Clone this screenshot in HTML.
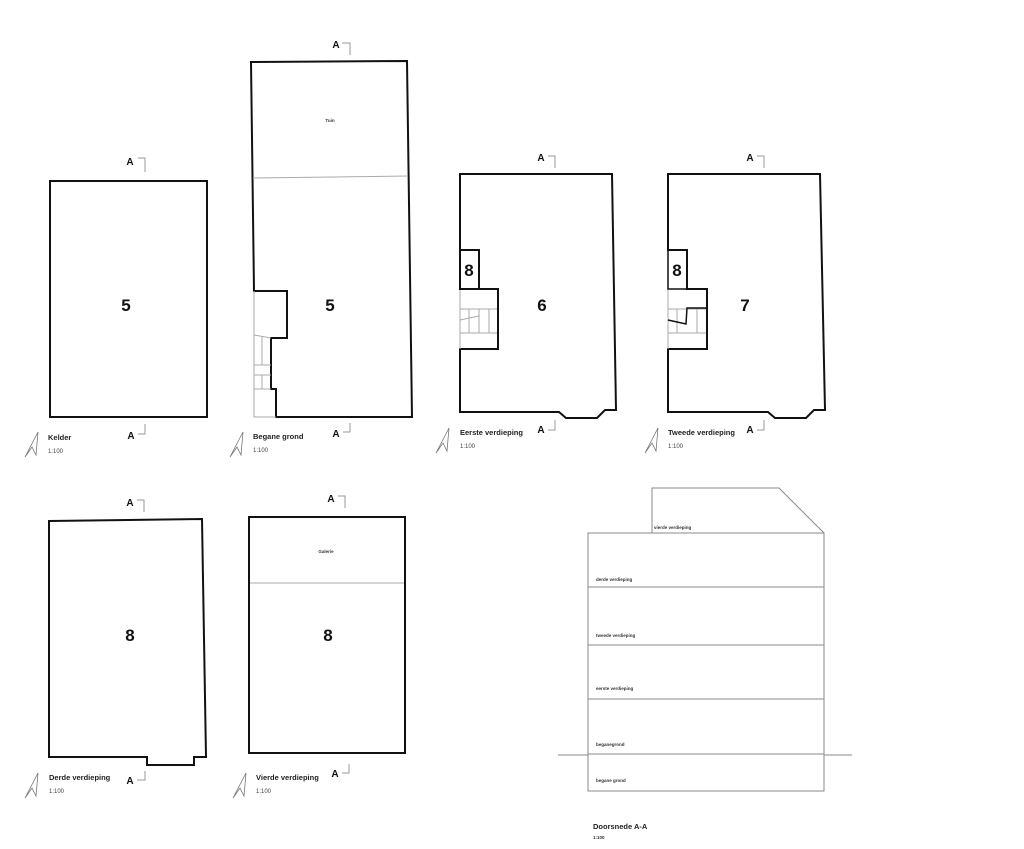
<!DOCTYPE html>
<html><head><meta charset="utf-8"><style>
html,body{margin:0;padding:0;background:#fff;}
svg{display:block;}
.b{fill:none;stroke:#111;stroke-width:2;}
.g{fill:none;stroke:#aaa;stroke-width:1;}
.s{fill:none;stroke:#888;stroke-width:1;}
.m{fill:none;stroke:#999;stroke-width:1;}
.n{font-family:"Liberation Sans",sans-serif;font-weight:bold;font-size:17px;fill:#111;}
.a{font-family:"Liberation Sans",sans-serif;font-weight:bold;font-size:10px;fill:#111;}
.t{font-family:"Liberation Sans",sans-serif;font-weight:bold;font-size:7.5px;fill:#222;}
.sc{font-family:"Liberation Sans",sans-serif;font-size:6px;fill:#444;}
.x{font-family:"Liberation Sans",sans-serif;font-weight:bold;font-size:4.5px;fill:#333;}
</style></head><body>
<svg width="1024" height="849" viewBox="0 0 1024 849" xmlns="http://www.w3.org/2000/svg">
<defs>
<g id="na"><path d="M-1,13 L12,-12 L10,11 L6,3 Z" fill="none" stroke="#777" stroke-width="0.8"/></g>
</defs>

<!-- Kelder -->
<rect x="50" y="181" width="157" height="236" class="b"/>
<text x="126" y="311" class="n" text-anchor="middle">5</text>
<text x="130" y="165" class="a" text-anchor="middle">A</text><path d="M138,158 H145 V172" class="m"/>
<text x="131" y="439" class="a" text-anchor="middle">A</text><path d="M138,434 H145 V424" class="m"/>
<use href="#na" x="26" y="444"/>
<text x="48" y="440" class="t">Kelder</text><text x="48" y="453" class="sc">1:100</text>

<!-- Begane grond -->
<path d="M251,62 L407,61 L412,417 L276,417 L276,389 L271,389 L271,338 L287,338 L287,291 L254,291 Z" class="b"/>
<path d="M253,178 L408,176" class="g"/>
<path d="M254,291 V417 H276 M254,335 L271,338 M254,365 H271 M254,375 H271 M262,337 V365 M262,375 V389 M254,389 H271" class="g"/>
<text x="330" y="122" class="x" text-anchor="middle">Tuin</text>
<text x="330" y="311" class="n" text-anchor="middle">5</text>
<text x="336" y="48" class="a" text-anchor="middle">A</text><path d="M342,43 H350 V55" class="m"/>
<text x="336" y="437" class="a" text-anchor="middle">A</text><path d="M343,432 H350 V423" class="m"/>
<use href="#na" x="231" y="444"/>
<text x="253" y="439" class="t">Begane grond</text><text x="253" y="452" class="sc">1:100</text>

<!-- Eerste verdieping -->
<path d="M460,349 L498,349 L498,289 L479,289 L479,250 L460,250 L460,174 L612,174 L616,410 L605,410 L597,418 L566,418 L559,412 L460,412 Z" class="b"/>
<path d="M460,289 V349 M460,309 H497 M460,333 H497 M469,309 V333 M479,309 V333 M489,309 V333 M460,320 L479,316" class="g"/>
<path d="M460,250 V289 H479" class="b"/>
<text x="469" y="276" class="n" text-anchor="middle">8</text>
<text x="542" y="311" class="n" text-anchor="middle">6</text>
<text x="541" y="161" class="a" text-anchor="middle">A</text><path d="M548,156 H555 V168" class="m"/>
<text x="541" y="433" class="a" text-anchor="middle">A</text><path d="M548,430 H555 V420" class="m"/>
<use href="#na" x="437" y="440"/>
<text x="460" y="435" class="t">Eerste verdieping</text><text x="460" y="448" class="sc">1:100</text>

<!-- Tweede verdieping -->
<path d="M668,349 L707,349 L707,289 L687,289 L687,250 L668,250 L668,174 L820,174 L825,410 L814,410 L806,418 L775,418 L768,412 L668,412 Z" class="b"/>
<path d="M668,289 V349 M668,309 H706 M668,333 H706 M677,309 V333 M697,309 V333" class="g"/>
<path d="M668,250 V289 H687 M668,320 L686,324 L687,308 L707,308" class="b" style="stroke-width:1.5"/>
<text x="677" y="276" class="n" text-anchor="middle">8</text>
<text x="745" y="311" class="n" text-anchor="middle">7</text>
<text x="750" y="161" class="a" text-anchor="middle">A</text><path d="M757,156 H764 V168" class="m"/>
<text x="750" y="433" class="a" text-anchor="middle">A</text><path d="M757,430 H764 V420" class="m"/>
<use href="#na" x="646" y="440"/>
<text x="668" y="435" class="t">Tweede verdieping</text><text x="668" y="448" class="sc">1:100</text>

<!-- Derde verdieping -->
<path d="M49,521 L202,519 L206,757 L194,757 L194,765 L147,765 L147,757 L49,757 Z" class="b"/>
<text x="130" y="641" class="n" text-anchor="middle">8</text>
<text x="130" y="506" class="a" text-anchor="middle">A</text><path d="M137,500 H144 V512" class="m"/>
<text x="130" y="784" class="a" text-anchor="middle">A</text><path d="M137,780 H145 V771" class="m"/>
<use href="#na" x="26" y="785"/>
<text x="49" y="780" class="t">Derde verdieping</text><text x="49" y="793" class="sc">1:100</text>

<!-- Vierde verdieping -->
<rect x="249" y="517" width="156" height="236" class="b"/>
<path d="M250,583 H404" class="g"/>
<text x="326" y="553" class="x" text-anchor="middle">Galerie</text>
<text x="328" y="641" class="n" text-anchor="middle">8</text>
<text x="331" y="502" class="a" text-anchor="middle">A</text><path d="M338,496 H345 V508" class="m"/>
<text x="335" y="777" class="a" text-anchor="middle">A</text><path d="M342,773 H349 V764" class="m"/>
<use href="#na" x="234" y="785"/>
<text x="256" y="780" class="t">Vierde verdieping</text><text x="256" y="793" class="sc">1:100</text>

<!-- Doorsnede -->
<rect x="588" y="533" width="236" height="258" class="s"/>
<path d="M652,533 V488 H779 L824,533" class="s"/>
<path d="M588,587 H824 M588,645 H824 M588,699 H824 M588,754 H824 M558,755 H588 M824,755 H852" class="s"/>
<text x="654" y="529" class="x">vierde verdieping</text>
<text x="596" y="581" class="x">derde verdieping</text>
<text x="596" y="637" class="x">tweede verdieping</text>
<text x="596" y="690" class="x">eerste verdieping</text>
<text x="596" y="746" class="x">beganegrond</text>
<text x="596" y="782" class="x">begane grond</text>
<text x="593" y="829" class="t">Doorsnede A-A</text>
<text x="593" y="839" class="x">1:100</text>
</svg>
</body></html>
